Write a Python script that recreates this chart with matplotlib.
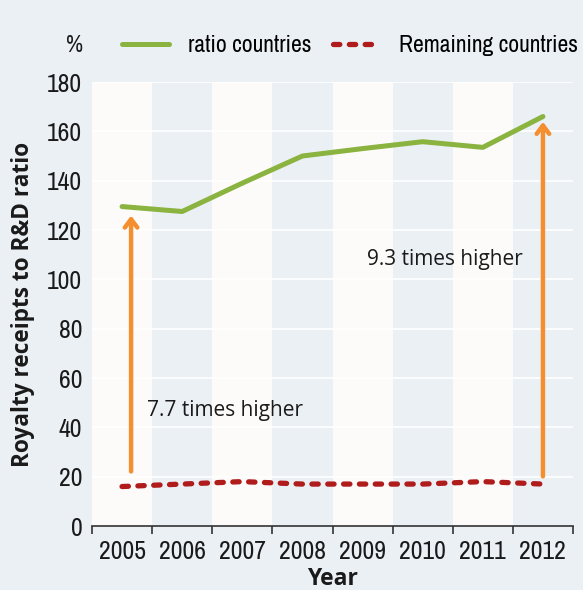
import matplotlib
matplotlib.use("Agg")
from matplotlib import pyplot as plt
from matplotlib import font_manager

# Data
YEARS = ["2005", "2006", "2007", "2008", "2009", "2010", "2011", "2012"]
RATIO_COUNTRIES = [129.5, 127.5, 139, 150, 153, 155.8, 153.5, 166]
REMAINING_COUNTRIES = [16, 17, 18, 17, 17, 17, 18, 17]
Y_TICKS = [0, 20, 40, 60, 80, 100, 120, 140, 160, 180]

# Arrow annotations: (year index, start value, end value)
ARROWS = [(0, 21, 127), (7, 19, 165)]
NOTES = [("7.7 times higher", 0.42, 47), ("9.3 times higher", 4.08, 108)]

BG = "#ebf0f5"
BAND = "#fcfbf9"
GREEN = "#8ab33f"
RED = "#b01c1c"
ORANGE = "#f38f2f"
INK = "#1a1a1a"


def pick(names, fallback="DejaVu Sans"):
    available = {f.name for f in font_manager.fontManager.ttflist}
    for n in names:
        if n in available:
            return n
    return fallback


NARROW = pick(["Archivo Narrow", "Liberation Sans Narrow", "Liberation Sans"])
HUMAN = pick(["Open Sans", "Lato", "Noto Sans"])


def main() -> None:
    fig = plt.figure(figsize=(5.83, 5.90), dpi=100, facecolor=BG)
    ax = fig.add_axes([92 / 583, 64 / 590, 481 / 583, 444 / 590])
    ax.set_facecolor(BG)

    x = list(range(len(YEARS)))

    # alternating vertical bands
    for i in x[::2]:
        ax.axvspan(i - 0.5, i + 0.5, color=BAND, zorder=0, lw=0)

    for v in Y_TICKS[1:]:
        ax.axhline(v, color="white", lw=1.2, zorder=1)

    ax.plot(x, RATIO_COUNTRIES, color=GREEN, lw=3.6, solid_capstyle="round",
            solid_joinstyle="round", zorder=3, label="ratio countries")
    ax.plot(x, REMAINING_COUNTRIES, color=RED, lw=3.8, linestyle=(0, (1.2, 1.8)),
            dash_capstyle="round", zorder=3, label="Remaining countries")

    for i, y0, y1 in ARROWS:
        xa = i + 0.15 if i == 0 else i
        ax.annotate("", xy=(xa, y1), xytext=(xa, y0),
                    arrowprops=dict(arrowstyle="->, head_length=0.6, head_width=0.45",
                                    color=ORANGE, lw=3.2, capstyle="round"),
                    zorder=4)

    for text, xt, yt in NOTES:
        ax.text(xt, yt, text, fontsize=15, family=HUMAN, color=INK,
                va="center", ha="left", zorder=5)

    ax.set_xlim(-0.5, 7.5)
    ax.set_ylim(0, 180)
    ax.set_xticks(x)
    ax.set_xticklabels(YEARS, family=NARROW, fontsize=18.5, color=INK)
    ax.set_xticks([i - 0.5 for i in range(len(YEARS) + 1)], minor=True)
    ax.tick_params(axis="x", which="major", length=0, pad=10)
    ax.tick_params(axis="x", which="minor", length=6, width=1.2, color="#333333")
    ax.set_yticks(Y_TICKS)
    ax.set_yticklabels([str(v) for v in Y_TICKS], family=NARROW, fontsize=18.5, color=INK)
    ax.tick_params(axis="y", length=0, pad=7)

    for s in ["top", "right", "left"]:
        ax.spines[s].set_visible(False)
    ax.spines["bottom"].set_color("#333333")
    ax.spines["bottom"].set_linewidth(1.2)

    ax.set_xlabel("Year", family=HUMAN, fontsize=16.5, fontweight="bold",
                  color=INK, labelpad=3)
    ax.set_ylabel("Royalty receipts to R&D ratio", family=HUMAN, fontsize=16.3,
                  fontweight="bold", color=INK, labelpad=9)

    fig.text(75 / 583, 1 - 46 / 590, "%", family=NARROW, fontsize=17,
             ha="center", va="center", color=INK)
    fig.legend(loc="center", bbox_to_anchor=(350 / 583, 1 - 46 / 590), ncol=2,
               frameon=False, prop={"family": NARROW, "size": 17},
               handlelength=2.0, handletextpad=0.8, columnspacing=0.9)

    fig.savefig("out.png", dpi=100, facecolor=BG)


if __name__ == "__main__":
    main()
